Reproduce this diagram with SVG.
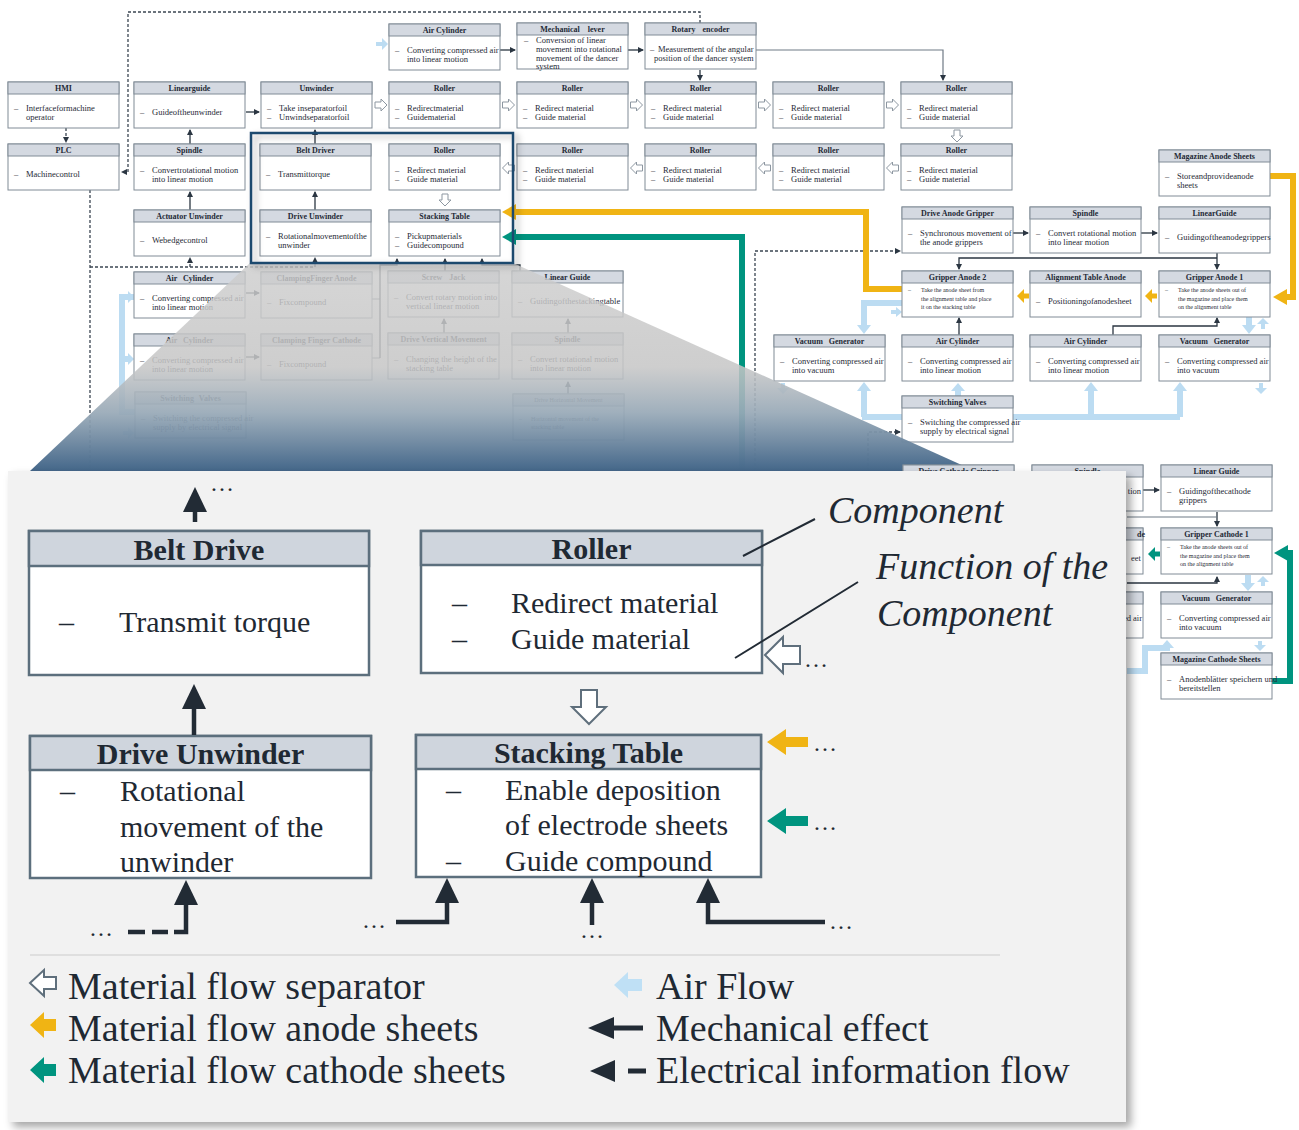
<svg xmlns="http://www.w3.org/2000/svg" width="1299" height="1130" viewBox="0 0 1299 1130">
<style>
.bx{fill:#fff;stroke:#808b96;stroke-width:1}
.hd{fill:#d4d9e1;stroke:#808b96;stroke-width:1}
.tt{font-family:"Liberation Serif",serif;font-weight:bold;font-size:8px;fill:#1f2a36;text-anchor:middle}
.tx{font-family:"Liberation Serif",serif;font-size:8.5px;fill:#1f2a36}
.ts{font-family:"Liberation Serif",serif;font-size:6px;fill:#1f2a36}
.m{fill:none;stroke:#2b3642;stroke-width:1.3;marker-end:url(#ah)}
.mg{fill:none;stroke:#6f7a85;stroke-width:1.2;marker-end:url(#ah)}
.ln{fill:none;stroke:#6f7a85;stroke-width:1.2}
.e{fill:none;stroke:#3b4652;stroke-width:1.3;stroke-dasharray:3 2}
.ea{fill:none;stroke:#3b4652;stroke-width:1.3;stroke-dasharray:3 2;marker-end:url(#ah)}
.hol{fill:#fff;stroke:#8d97a1;stroke-width:1}
.air{fill:none;stroke:#bcdcf2;stroke-width:6}
.airh{fill:#bcdcf2}
.yel{fill:none;stroke:#f0b414;stroke-width:6}
.yelh{fill:#f0b414}
.tea{fill:none;stroke:#00947f;stroke-width:6}
.teah{fill:#00947f}
.pb{fill:#fff;stroke:#5c6f7d;stroke-width:2.5}
.ph{fill:#cfd5dd;stroke:#5c6f7d;stroke-width:2.5}
.pt{font-family:"Liberation Serif",serif;font-weight:bold;font-size:30px;fill:#1f2933;text-anchor:middle}
.px{font-family:"Liberation Serif",serif;font-size:30px;fill:#1f2933}
.lg{font-family:"Liberation Serif",serif;font-size:38px;fill:#1f2933}
.an{font-family:"Liberation Serif",serif;font-style:italic;font-size:38px;fill:#1f2933}
.dots{font-family:"Liberation Serif",serif;font-size:24px;fill:#1f2933}
.pl{fill:none;stroke:#222b35;stroke-width:4.5}
.pah{fill:#222b35}
.phol{fill:#fff;stroke:#5f6f7c;stroke-width:2}
</style>
<defs>
<marker id="ah" markerWidth="6" markerHeight="6" refX="5" refY="3" orient="auto" markerUnits="userSpaceOnUse"><path d="M0,0 L6,3 L0,6 z" fill="#2b3642"/></marker>
<path id="hr" class="hol" d="M-6,-3 H0 V-6 L6,0 L0,6 V3 H-6 Z"/>
<linearGradient id="fade" gradientUnits="userSpaceOnUse" x1="0" y1="263" x2="0" y2="471">
<stop offset="0" stop-color="#cdcdcd" stop-opacity="0.82"/>
<stop offset="0.5" stop-color="#c6c6c6" stop-opacity="0.86"/>
<stop offset="0.72" stop-color="#98a9b7" stop-opacity="0.93"/>
<stop offset="1" stop-color="#44678a" stop-opacity="1"/>
</linearGradient>
<filter id="sh" x="-5%" y="-5%" width="115%" height="115%"><feDropShadow dx="5" dy="5" stdDeviation="4" flood-color="#000" flood-opacity="0.35"/></filter>
<filter id="sh2" x="-10%" y="-10%" width="125%" height="125%"><feDropShadow dx="4" dy="3" stdDeviation="3" flood-color="#000" flood-opacity="0.3"/></filter>
</defs>
<rect width="1299" height="1130" fill="#fff"/>

<g id="connectors">
<path class="m" d="M246,112 H259"/>
<path class="m" d="M190,144 V130"/>
<path class="m" d="M190,210 V192"/>
<path class="m" d="M315,210 V192"/>
<path class="m" d="M315,144 V130"/>
<path class="m" d="M500,50 H515"/>
<path class="m" d="M628,50 H643"/>
<path class="m" d="M700,70 V80"/>
<path class="mg" d="M756,50 H943 V80"/>
<path class="m" d="M1013,233 H1028"/>
<path class="m" d="M1141,233 H1157"/>
<path class="m" d="M1217,253 V269"/>
<path class="m" d="M1217,258 H959 V269"/>
<path class="m" d="M959,335 V318"/>
<path class="m" d="M1113,335 V326 H1217 V318"/>
<path class="m" d="M1143,490 H1159"/>
<path class="m" d="M1217,512 V526"/>
<path class="ln" d="M1127,517 H1217"/>
<path class="m" d="M1127,583 H1217 V577"/>
<path class="m" d="M246,293 H259"/>
<path class="m" d="M246,357 H259"/>
<path class="m" d="M444,333 V319"/>
<path class="m" d="M568,333 V319"/>
<path class="m" d="M568,394 V382"/>
<path class="ln" d="M372,299 H380 M372,358 H380"/>
<path class="m" d="M380,358 V265 H397 V259"/>
<path class="m" d="M445,271 V259"/>
<path class="m" d="M520,271 V265 H482 V259"/>
<path class="ea" d="M700,23 V12 H128 V172 H122"/>
<path class="ea" d="M66,128 V142"/>
<path class="e" d="M90,190 V471 M90,267 H315"/>
<path class="ea" d="M190,267 V258"/>
<path class="ea" d="M315,267 V258"/>
<path class="ea" d="M755,471 V251 H900"/>
<path class="ea" d="M868,471 V432 H900"/>
<use href="#hr" transform="translate(381,105)"/>
<use href="#hr" transform="translate(508.5,105)"/>
<use href="#hr" transform="translate(636.5,105)"/>
<use href="#hr" transform="translate(764.5,105)"/>
<use href="#hr" transform="translate(892.5,105)"/>
<use href="#hr" transform="translate(957,136) rotate(90)"/>
<use href="#hr" transform="translate(892.5,168) rotate(180)"/>
<use href="#hr" transform="translate(764.5,168) rotate(180)"/>
<use href="#hr" transform="translate(636.5,168) rotate(180)"/>
<use href="#hr" transform="translate(508.5,168) rotate(180)"/>
<use href="#hr" transform="translate(445,200) rotate(90)"/>
<path class="air" d="M862,417 H1180 M864,417 V390 M1091,417 V390 M1180,417 V390"/>
<polygon class="airh" points="864,382 857,391 871,391"/>
<polygon class="airh" points="1091,382 1084,391 1098,391"/>
<polygon class="airh" points="1180,382 1173,391 1187,391"/>
<path class="air" d="M958,396 V390"/>
<polygon class="airh" points="958,383 951,391 965,391"/>
<path class="air" d="M903,303 H864 V326"/>
<polygon class="airh" points="864,334 857,325 871,325"/>
<path d="M891,312 H897" stroke="#bcdcf2" stroke-width="4"/>
<polygon class="airh" points="902,312 896,307 896,317"/>
<path class="air" d="M1249,317 V326"/>
<polygon class="airh" points="1249,334 1242,325 1256,325"/>
<path d="M1263,323 V329" stroke="#bcdcf2" stroke-width="4"/>
<polygon class="airh" points="1263,318 1257,324 1269,324"/>
<path d="M1261,383 V388" stroke="#bcdcf2" stroke-width="4"/>
<polygon class="airh" points="1261,394 1255,388 1267,388"/>
<path d="M783,383 V388" stroke="#bcdcf2" stroke-width="4"/>
<polygon class="airh" points="783,394 777,388 789,388"/>
<path d="M376,44 H382" stroke="#bcdcf2" stroke-width="4"/>
<polygon class="airh" points="388,44 382,38 382,50"/>
<path class="air" d="M1248,575 V584"/>
<polygon class="airh" points="1248,591 1241,583 1255,583"/>
<path d="M1263,581 V586" stroke="#bcdcf2" stroke-width="4"/>
<polygon class="airh" points="1263,576 1257,582 1269,582"/>
<path d="M1260,641 V645" stroke="#bcdcf2" stroke-width="4"/>
<polygon class="airh" points="1260,651 1254,645 1266,645"/>
<path class="air" d="M1127,671 H1145 V648 H1167 V647"/>
<polygon class="airh" points="1167,640 1160,648 1174,648"/>
<path class="air" d="M134,297 H122 V412 H135 M122,359 H128"/>
<polygon class="airh" points="134,297 128,291 128,303"/>
<polygon class="airh" points="134,359 128,353 128,365"/>
<path d="M123,433 H129" stroke="#bcdcf2" stroke-width="4"/>
<polygon class="airh" points="134,433 128,427 128,439"/>
<path class="yel" d="M1270,176 H1293 V297 H1287"/>
<polygon class="yelh" points="1273,297 1287,289 1287,305"/>
<path class="yel" d="M903,289 H866 V212 H515"/>
<polygon class="yelh" points="502,212 516,204 516,220"/>
<path d="M1151,296 H1157" stroke="#f0b414" stroke-width="5"/>
<polygon class="yelh" points="1145,296 1152,289 1152,303"/>
<path d="M1023,296 H1029" stroke="#f0b414" stroke-width="5"/>
<polygon class="yelh" points="1017,296 1024,289 1024,303"/>
<path class="tea" d="M742,471 V237 H515"/>
<polygon class="teah" points="502,237 516,229 516,245"/>
<path class="tea" d="M1272,681 H1290 V553 H1287"/>
<polygon class="teah" points="1274,553 1288,545 1288,561"/>
<path d="M1154,554 H1160" stroke="#00947f" stroke-width="5"/>
<polygon class="teah" points="1148,554 1155,547 1155,561"/>
</g>

<g id="n-hmi"><rect class="bx" x="8" y="82" width="111" height="46"/><rect class="hd" x="8" y="82" width="111" height="12"/><text class="tt" x="63.5" y="91">HMI</text><text class="tx" x="14" y="111">–</text><text class="tx" x="26" y="111">Interfaceformachine</text><text class="tx" x="26" y="120">operator</text></g>
<g id="n-plc"><rect class="bx" x="8" y="144" width="111" height="46"/><rect class="hd" x="8" y="144" width="111" height="12"/><text class="tt" x="63.5" y="153">PLC</text><text class="tx" x="14" y="177">–</text><text class="tx" x="26" y="177">Machinecontrol</text></g>
<g id="n-linguide1"><rect class="bx" x="134" y="82" width="111" height="46"/><rect class="hd" x="134" y="82" width="111" height="12"/><text class="tt" x="189.5" y="91">Linearguide</text><text class="tx" x="140" y="115">–</text><text class="tx" x="152" y="115">Guideoftheunwinder</text></g>
<g id="n-spindle1"><rect class="bx" x="134" y="144" width="111" height="46"/><rect class="hd" x="134" y="144" width="111" height="12"/><text class="tt" x="189.5" y="153">Spindle</text><text class="tx" x="140" y="173">–</text><text class="tx" x="152" y="173">Convertrotational motion</text><text class="tx" x="152" y="182">into linear motion</text></g>
<g id="n-actuator"><rect class="bx" x="134" y="210" width="111" height="46"/><rect class="hd" x="134" y="210" width="111" height="12"/><text class="tt" x="189.5" y="219">Actuator Unwinder</text><text class="tx" x="140" y="243">–</text><text class="tx" x="152" y="243">Webedgecontrol</text></g>
<g id="n-unwinder"><rect class="bx" x="261" y="82" width="111" height="46"/><rect class="hd" x="261" y="82" width="111" height="12"/><text class="tt" x="316.5" y="91">Unwinder</text><text class="tx" x="267" y="111">–</text><text class="tx" x="279" y="111">Take inseparatorfoil</text><text class="tx" x="267" y="120">–</text><text class="tx" x="279" y="120">Unwindseparatorfoil</text></g>
<g id="n-beltdriver"><rect class="bx" x="260" y="144" width="111" height="46"/><rect class="hd" x="260" y="144" width="111" height="12"/><text class="tt" x="315.5" y="153">Belt Driver</text><text class="tx" x="266" y="177">–</text><text class="tx" x="278" y="177">Transmittorque</text></g>
<g id="n-driveunwinder"><rect class="bx" x="260" y="210" width="111" height="46"/><rect class="hd" x="260" y="210" width="111" height="12"/><text class="tt" x="315.5" y="219">Drive Unwinder</text><text class="tx" x="266" y="239">–</text><text class="tx" x="278" y="239">Rotationalmovementofthe</text><text class="tx" x="278" y="248">unwinder</text></g>
<g id="n-aircyl1"><rect class="bx" x="389" y="24" width="111" height="46"/><rect class="hd" x="389" y="24" width="111" height="12"/><text class="tt" x="444.5" y="33">Air Cylinder</text><text class="tx" x="395" y="53">–</text><text class="tx" x="407" y="53">Converting compressed air</text><text class="tx" x="407" y="62">into linear motion</text></g>
<g id="n-roller-a"><rect class="bx" x="389" y="82" width="111" height="46"/><rect class="hd" x="389" y="82" width="111" height="12"/><text class="tt" x="444.5" y="91">Roller</text><text class="tx" x="395" y="111">–</text><text class="tx" x="407" y="111">Redirectmaterial</text><text class="tx" x="395" y="120">–</text><text class="tx" x="407" y="120">Guidematerial</text></g>
<g id="n-roller-b"><rect class="bx" x="389" y="144" width="111" height="46"/><rect class="hd" x="389" y="144" width="111" height="12"/><text class="tt" x="444.5" y="153">Roller</text><text class="tx" x="395" y="173">–</text><text class="tx" x="407" y="173">Redirect material</text><text class="tx" x="395" y="182">–</text><text class="tx" x="407" y="182">Guide material</text></g>
<g id="n-stacking"><rect class="bx" x="389" y="210" width="111" height="46"/><rect class="hd" x="389" y="210" width="111" height="12"/><text class="tt" x="444.5" y="219">Stacking Table</text><text class="tx" x="395" y="239">–</text><text class="tx" x="407" y="239">Pickupmaterials</text><text class="tx" x="395" y="248">–</text><text class="tx" x="407" y="248">Guidecompound</text></g>
<g id="n-mechlever"><rect class="bx" x="517" y="23" width="111" height="46"/><rect class="hd" x="517" y="23" width="111" height="12"/><text class="tt" x="572.5" y="32" word-spacing="6">Mechanical lever</text><text class="tx" x="524" y="43">–</text><text class="tx" x="536" y="43">Conversion of linear</text><text class="tx" x="536" y="52">movement into rotational</text><text class="tx" x="536" y="60.5">movement of the dancer</text><text class="tx" x="536" y="69">system</text></g>
<g id="n-rotenc"><rect class="bx" x="645" y="23" width="111" height="46"/><rect class="hd" x="645" y="23" width="111" height="12"/><text class="tt" x="700.5" y="32" word-spacing="5">Rotary encoder</text><text class="tx" x="650" y="52">–</text><text class="tx" x="658" y="52">Measurement of the angular</text><text class="tx" x="654" y="61">position of the dancer system</text></g>
<g id="n-roller-c"><rect class="bx" x="517" y="82" width="111" height="46"/><rect class="hd" x="517" y="82" width="111" height="12"/><text class="tt" x="572.5" y="91">Roller</text><text class="tx" x="523" y="111">–</text><text class="tx" x="535" y="111">Redirect material</text><text class="tx" x="523" y="120">–</text><text class="tx" x="535" y="120">Guide material</text></g>
<g id="n-roller-d"><rect class="bx" x="645" y="82" width="111" height="46"/><rect class="hd" x="645" y="82" width="111" height="12"/><text class="tt" x="700.5" y="91">Roller</text><text class="tx" x="651" y="111">–</text><text class="tx" x="663" y="111">Redirect material</text><text class="tx" x="651" y="120">–</text><text class="tx" x="663" y="120">Guide material</text></g>
<g id="n-roller-e"><rect class="bx" x="773" y="82" width="111" height="46"/><rect class="hd" x="773" y="82" width="111" height="12"/><text class="tt" x="828.5" y="91">Roller</text><text class="tx" x="779" y="111">–</text><text class="tx" x="791" y="111">Redirect material</text><text class="tx" x="779" y="120">–</text><text class="tx" x="791" y="120">Guide material</text></g>
<g id="n-roller-f"><rect class="bx" x="901" y="82" width="111" height="46"/><rect class="hd" x="901" y="82" width="111" height="12"/><text class="tt" x="956.5" y="91">Roller</text><text class="tx" x="907" y="111">–</text><text class="tx" x="919" y="111">Redirect material</text><text class="tx" x="907" y="120">–</text><text class="tx" x="919" y="120">Guide material</text></g>
<g id="n-roller-g"><rect class="bx" x="517" y="144" width="111" height="46"/><rect class="hd" x="517" y="144" width="111" height="12"/><text class="tt" x="572.5" y="153">Roller</text><text class="tx" x="523" y="173">–</text><text class="tx" x="535" y="173">Redirect material</text><text class="tx" x="523" y="182">–</text><text class="tx" x="535" y="182">Guide material</text></g>
<g id="n-roller-h"><rect class="bx" x="645" y="144" width="111" height="46"/><rect class="hd" x="645" y="144" width="111" height="12"/><text class="tt" x="700.5" y="153">Roller</text><text class="tx" x="651" y="173">–</text><text class="tx" x="663" y="173">Redirect material</text><text class="tx" x="651" y="182">–</text><text class="tx" x="663" y="182">Guide material</text></g>
<g id="n-roller-i"><rect class="bx" x="773" y="144" width="111" height="46"/><rect class="hd" x="773" y="144" width="111" height="12"/><text class="tt" x="828.5" y="153">Roller</text><text class="tx" x="779" y="173">–</text><text class="tx" x="791" y="173">Redirect material</text><text class="tx" x="779" y="182">–</text><text class="tx" x="791" y="182">Guide material</text></g>
<g id="n-roller-j"><rect class="bx" x="901" y="144" width="111" height="46"/><rect class="hd" x="901" y="144" width="111" height="12"/><text class="tt" x="956.5" y="153">Roller</text><text class="tx" x="907" y="173">–</text><text class="tx" x="919" y="173">Redirect material</text><text class="tx" x="907" y="182">–</text><text class="tx" x="919" y="182">Guide material</text></g>

<g id="n-maganode"><rect class="bx" x="1159" y="150" width="111" height="46"/><rect class="hd" x="1159" y="150" width="111" height="12"/><text class="tt" x="1214.5" y="159">Magazine Anode Sheets</text><text class="tx" x="1165" y="179">–</text><text class="tx" x="1177" y="179">Storeandprovideanode</text><text class="tx" x="1177" y="188">sheets</text></g>
<g id="n-driveanode"><rect class="bx" x="902" y="207" width="111" height="46"/><rect class="hd" x="902" y="207" width="111" height="12"/><text class="tt" x="957.5" y="216">Drive Anode Gripper</text><text class="tx" x="908" y="236">–</text><text class="tx" x="920" y="236">Synchronous movement of</text><text class="tx" x="920" y="245">the anode grippers</text></g>
<g id="n-spindle2"><rect class="bx" x="1030" y="207" width="111" height="46"/><rect class="hd" x="1030" y="207" width="111" height="12"/><text class="tt" x="1085.5" y="216">Spindle</text><text class="tx" x="1036" y="236">–</text><text class="tx" x="1048" y="236">Convert rotational motion</text><text class="tx" x="1048" y="245">into linear motion</text></g>
<g id="n-linguide2"><rect class="bx" x="1159" y="207" width="111" height="46"/><rect class="hd" x="1159" y="207" width="111" height="12"/><text class="tt" x="1214.5" y="216">LinearGuide</text><text class="tx" x="1165" y="240">–</text><text class="tx" x="1177" y="240">Guidingoftheanodegrippers</text></g>
<g id="n-gripanode2"><rect class="bx" x="902" y="271" width="111" height="46"/><rect class="hd" x="902" y="271" width="111" height="12"/><text class="tt" x="957.5" y="280">Gripper Anode 2</text><text class="ts" x="908" y="292">–</text><text class="ts" x="921" y="292">Take the anode sheet from</text><text class="ts" x="921" y="300.5">the alignment table and place</text><text class="ts" x="921" y="309">it on the stacking table</text></g>
<g id="n-aligntable"><rect class="bx" x="1030" y="271" width="111" height="46"/><rect class="hd" x="1030" y="271" width="111" height="12"/><text class="tt" x="1085.5" y="280">Alignment Table Anode</text><text class="tx" x="1036" y="304">–</text><text class="tx" x="1048" y="304">Positioningofanodesheet</text></g>
<g id="n-gripanode1"><rect class="bx" x="1159" y="271" width="111" height="46"/><rect class="hd" x="1159" y="271" width="111" height="12"/><text class="tt" x="1214.5" y="280">Gripper Anode 1</text><text class="ts" x="1165" y="292">–</text><text class="ts" x="1178" y="292">Take the anode sheets out of</text><text class="ts" x="1178" y="300.5">the magazine and place them</text><text class="ts" x="1178" y="309">on the alignment table</text></g>
<g id="n-vac1"><rect class="bx" x="774" y="335" width="111" height="46"/><rect class="hd" x="774" y="335" width="111" height="12"/><text class="tt" x="829.5" y="344" word-spacing="4">Vacuum Generator</text><text class="tx" x="780" y="364">–</text><text class="tx" x="792" y="364">Converting compressed air</text><text class="tx" x="792" y="373">into vacuum</text></g>
<g id="n-aircyl2"><rect class="bx" x="902" y="335" width="111" height="46"/><rect class="hd" x="902" y="335" width="111" height="12"/><text class="tt" x="957.5" y="344">Air Cylinder</text><text class="tx" x="908" y="364">–</text><text class="tx" x="920" y="364">Converting compressed air</text><text class="tx" x="920" y="373">into linear motion</text></g>
<g id="n-aircyl3"><rect class="bx" x="1030" y="335" width="111" height="46"/><rect class="hd" x="1030" y="335" width="111" height="12"/><text class="tt" x="1085.5" y="344">Air Cylinder</text><text class="tx" x="1036" y="364">–</text><text class="tx" x="1048" y="364">Converting compressed air</text><text class="tx" x="1048" y="373">into linear motion</text></g>
<g id="n-vac2"><rect class="bx" x="1159" y="335" width="111" height="46"/><rect class="hd" x="1159" y="335" width="111" height="12"/><text class="tt" x="1214.5" y="344" word-spacing="4">Vacuum Generator</text><text class="tx" x="1165" y="364">–</text><text class="tx" x="1177" y="364">Converting compressed air</text><text class="tx" x="1177" y="373">into vacuum</text></g>
<g id="n-valves"><rect class="bx" x="902" y="396" width="111" height="46"/><rect class="hd" x="902" y="396" width="111" height="12"/><text class="tt" x="957.5" y="405">Switching Valves</text><text class="tx" x="908" y="425">–</text><text class="tx" x="920" y="425">Switching the compressed air</text><text class="tx" x="920" y="434">supply by electrical signal</text></g>

<g id="n-aircyl-d1"><rect class="bx" x="134" y="272" width="111" height="46"/><rect class="hd" x="134" y="272" width="111" height="12"/><text class="tt" x="189.5" y="281" word-spacing="4">Air Cylinder</text><text class="tx" x="140" y="301">–</text><text class="tx" x="152" y="301">Converting compressed air</text><text class="tx" x="152" y="310">into linear motion</text></g>
<g id="n-clampA"><rect class="bx" x="261" y="272" width="111" height="46"/><rect class="hd" x="261" y="272" width="111" height="12"/><text class="tt" x="316.5" y="281">ClampingFinger Anode</text><text class="tx" x="267" y="305">–</text><text class="tx" x="279" y="305">Fixcompound</text></g>
<g id="n-aircyl-d2"><rect class="bx" x="134" y="334" width="111" height="46"/><rect class="hd" x="134" y="334" width="111" height="12"/><text class="tt" x="189.5" y="343" word-spacing="4">Air Cylinder</text><text class="tx" x="140" y="363">–</text><text class="tx" x="152" y="363">Converting compressed air</text><text class="tx" x="152" y="372">into linear motion</text></g>
<g id="n-clampC"><rect class="bx" x="261" y="334" width="111" height="46"/><rect class="hd" x="261" y="334" width="111" height="12"/><text class="tt" x="316.5" y="343">Clamping Finger Cathode</text><text class="tx" x="267" y="367">–</text><text class="tx" x="279" y="367">Fixcompound</text></g>
<g id="n-valves-d"><rect class="bx" x="135" y="392" width="111" height="46"/><rect class="hd" x="135" y="392" width="111" height="12"/><text class="tt" x="190.5" y="401" word-spacing="3">Switching Valves</text><text class="tx" x="141" y="421">–</text><text class="tx" x="153" y="421">Switching the compressed air</text><text class="tx" x="153" y="430">supply by electrical signal</text></g>
<g id="n-screwjack"><rect class="bx" x="388" y="271" width="111" height="46"/><rect class="hd" x="388" y="271" width="111" height="12"/><text class="tt" x="443.5" y="280" word-spacing="5">Screw Jack</text><text class="tx" x="394" y="300">–</text><text class="tx" x="406" y="300">Convert rotary motion into</text><text class="tx" x="406" y="309">vertical linear motion</text></g>
<g id="n-linguide-d"><rect class="bx" x="512" y="271" width="111" height="46"/><rect class="hd" x="512" y="271" width="111" height="12"/><text class="tt" x="567.5" y="280">Linear Guide</text><text class="tx" x="518" y="304">–</text><text class="tx" x="530" y="304">Guidingofthestackingtable</text></g>
<g id="n-drivevert"><rect class="bx" x="388" y="333" width="111" height="46"/><rect class="hd" x="388" y="333" width="111" height="12"/><text class="tt" x="443.5" y="342">Drive Vertical Movement</text><text class="tx" x="394" y="362">–</text><text class="tx" x="406" y="362">Changing the height of the</text><text class="tx" x="406" y="371">stacking table</text></g>
<g id="n-spindle-d"><rect class="bx" x="512" y="333" width="111" height="46"/><rect class="hd" x="512" y="333" width="111" height="12"/><text class="tt" x="567.5" y="342">Spindle</text><text class="tx" x="518" y="362">–</text><text class="tx" x="530" y="362">Convert rotational motion</text><text class="tx" x="530" y="371">into linear motion</text></g>
<g id="n-drivehoriz"><rect class="bx" x="513" y="394" width="111" height="46"/><rect class="hd" x="513" y="394" width="111" height="12"/><text class="ts" x="568.5" y="402" text-anchor="middle">Drive Horizontal Movement</text><text class="ts" x="519" y="421">–</text><text class="ts" x="531" y="421">Horizontal movement of the</text><text class="ts" x="531" y="429">stacking table</text></g>

<polygon id="fade-overlay" points="250,263 513,263 975,471 30,471" fill="url(#fade)"/>
<rect id="focus" x="251" y="133" width="262" height="130" fill="none" stroke="#1f4a6e" stroke-width="2.5" filter="url(#sh2)"/>

<g id="n-drivecath"><rect class="bx" x="903" y="465" width="111" height="46"/><rect class="hd" x="903" y="465" width="111" height="12"/><text class="tt" x="958.5" y="474">Drive Cathode Gripper</text></g>
<g id="n-spindle-c"><rect class="bx" x="1032" y="465" width="111" height="46"/><rect class="hd" x="1032" y="465" width="111" height="12"/><text class="tt" x="1087.5" y="474">Spindle</text><text class="tx" x="1141" y="494" text-anchor="end">tion</text></g>
<g id="n-linguide-c"><rect class="bx" x="1161" y="465" width="111" height="46"/><rect class="hd" x="1161" y="465" width="111" height="12"/><text class="tt" x="1216.5" y="474">Linear Guide</text><text class="tx" x="1167" y="494">–</text><text class="tx" x="1179" y="494">Guidingofthecathode</text><text class="tx" x="1179" y="503">grippers</text></g>
<g id="n-aligncath"><rect class="bx" x="1032" y="528" width="111" height="46"/><rect class="hd" x="1032" y="528" width="111" height="12"/><text class="tt" x="1141" y="537" text-anchor="end">de</text><text class="tx" x="1141" y="561" text-anchor="end">eet</text></g>
<g id="n-gripcath1"><rect class="bx" x="1161" y="528" width="111" height="46"/><rect class="hd" x="1161" y="528" width="111" height="12"/><text class="tt" x="1216.5" y="537">Gripper Cathode 1</text><text class="ts" x="1167" y="549">–</text><text class="ts" x="1180" y="549">Take the anode sheets out of</text><text class="ts" x="1180" y="557.5">the magazine and place them</text><text class="ts" x="1180" y="566">on the alignment table</text></g>
<g id="n-aircyl-c"><rect class="bx" x="1032" y="592" width="111" height="46"/><rect class="hd" x="1032" y="592" width="111" height="12"/><text class="tx" x="1142" y="621" text-anchor="end">ed air</text></g>
<g id="n-vac3"><rect class="bx" x="1161" y="592" width="111" height="46"/><rect class="hd" x="1161" y="592" width="111" height="12"/><text class="tt" x="1216.5" y="601" word-spacing="4">Vacuum Generator</text><text class="tx" x="1167" y="621">–</text><text class="tx" x="1179" y="621">Converting compressed air</text><text class="tx" x="1179" y="630">into vacuum</text></g>
<g id="n-magcath"><rect class="bx" x="1161" y="653" width="111" height="46"/><rect class="hd" x="1161" y="653" width="111" height="12"/><text class="tt" x="1216.5" y="662">Magazine Cathode Sheets</text><text class="tx" x="1167" y="682">–</text><text class="tx" x="1179" y="682">Anodenblätter speichern und</text><text class="tx" x="1179" y="691">bereitstellen</text></g>

<rect id="panel" x="8" y="471" width="1118" height="651" fill="#f2f2f2" filter="url(#sh)"/>

<g id="p-beltdrive"><rect class="pb" x="29" y="531" width="340" height="144"/><rect class="ph" x="29" y="531" width="340" height="35"/><text class="pt" x="199" y="560">Belt Drive</text><text class="px" x="59" y="632">–</text><text class="px" x="119" y="632">Transmit torque</text></g>
<g id="p-roller"><rect class="pb" x="421" y="531" width="341" height="142"/><rect class="ph" x="421" y="531" width="341" height="34"/><text class="pt" x="591.5" y="559">Roller</text><text class="px" x="452" y="613">–</text><text class="px" x="511" y="613">Redirect material</text><text class="px" x="452" y="649">–</text><text class="px" x="511" y="649">Guide material</text></g>
<g id="p-driveunwinder"><rect class="pb" x="30" y="736" width="341" height="142"/><rect class="ph" x="30" y="736" width="341" height="34"/><text class="pt" x="200.5" y="764">Drive Unwinder</text><text class="px" x="60" y="801">–</text><text class="px" x="120" y="801">Rotational</text><text class="px" x="120" y="837">movement of the</text><text class="px" x="120" y="872">unwinder</text></g>
<g id="p-stacking"><rect class="pb" x="416" y="735" width="345" height="142"/><rect class="ph" x="416" y="735" width="345" height="34"/><text class="pt" x="588.5" y="763">Stacking Table</text><text class="px" x="446" y="800">–</text><text class="px" x="505" y="800">Enable deposition</text><text class="px" x="505" y="835">of electrode sheets</text><text class="px" x="446" y="871">–</text><text class="px" x="505" y="871">Guide compound</text></g>

<g id="panel-connectors">
<path class="pl" d="M195,522 V510"/><polygon class="pah" points="195,487 207,512 183,512"/>
<text class="dots" x="210" y="491">…</text>
<path class="pl" d="M194,735 V707"/><polygon class="pah" points="194,684 206,709 182,709"/>
<path class="pl" d="M186,903 V932 H174 M168,932 H152 M145,932 H128"/><polygon class="pah" points="186,880 198,905 174,905"/>
<text class="dots" x="89" y="936">…</text>
<path class="pl" d="M396,922 H447 V901"/><polygon class="pah" points="447,878 459,903 435,903"/>
<text class="dots" x="362" y="928">…</text>
<path class="pl" d="M592,925 V901"/><polygon class="pah" points="592,878 604,903 580,903"/>
<text class="dots" x="580" y="938">…</text>
<path class="pl" d="M825,922 H708 V901"/><polygon class="pah" points="708,878 720,903 696,903"/>
<text class="dots" x="829" y="929">…</text>
<path class="phol" d="M765,655 L783,637 L783,646 L800,646 L800,664 L783,664 L783,673 Z"/>
<text class="dots" x="804" y="667">…</text>
<path class="phol" d="M589,724 L606,707 L597,707 L597,690 L581,690 L581,707 L572,707 Z"/>
<path class="yelh" d="M767,742 L786,729 L786,737 L808,737 L808,747 L786,747 L786,755 Z"/>
<text class="dots" x="813" y="751">…</text>
<path class="teah" d="M767,821 L786,808 L786,816 L808,816 L808,826 L786,826 L786,834 Z"/>
<text class="dots" x="813" y="830">…</text>
<path d="M743,556 L815,519 M735,658 L858,582" stroke="#222b35" stroke-width="2" fill="none"/>
</g>
<text class="an" x="828" y="523">Component</text>
<text class="an" x="876" y="579">Function of the</text>
<text class="an" x="877" y="626">Component</text>

<g id="legend">
<path d="M30,955 H1000" stroke="#d9d9d9" stroke-width="1.5"/>
<path class="phol" stroke-width="1.5" d="M30,983 L44,970 L44,977 L56,977 L56,989 L44,989 L44,996 Z"/>
<text class="lg" x="68" y="999">Material flow separator</text>
<path class="yelh" d="M30,1025 L44,1012 L44,1019 L56,1019 L56,1031 L44,1031 L44,1038 Z"/>
<text class="lg" x="68" y="1041">Material flow anode sheets</text>
<path class="teah" d="M30,1070 L44,1057 L44,1064 L56,1064 L56,1076 L44,1076 L44,1083 Z"/>
<text class="lg" x="68" y="1083">Material flow cathode sheets</text>
<path d="M614,985 L628,972 L628,979 L642,979 L642,991 L628,991 L628,998 Z" fill="#bfe0f5"/>
<text class="lg" x="656" y="999">Air Flow</text>
<path d="M612,1028 H643" stroke="#222b35" stroke-width="5"/>
<polygon class="pah" points="588,1028 614,1017 614,1039"/>
<text class="lg" x="656" y="1041">Mechanical effect</text>
<polygon class="pah" points="590,1071 615,1060 615,1082"/>
<path d="M628,1071 H646" stroke="#222b35" stroke-width="5"/>
<text class="lg" x="656" y="1083">Electrical information flow</text>
</g>
</svg>
